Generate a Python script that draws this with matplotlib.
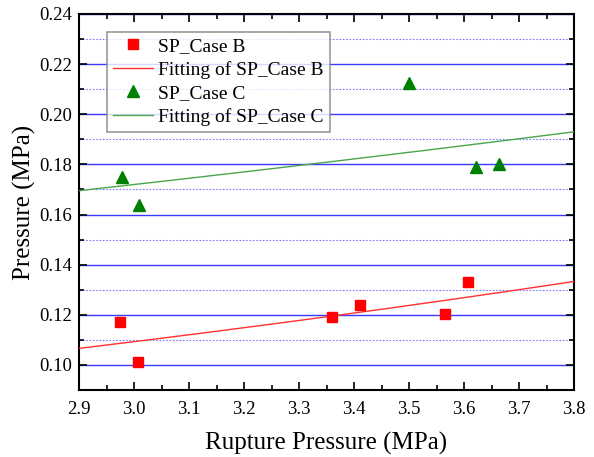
import matplotlib
matplotlib.use("Agg")
import matplotlib.pyplot as plt
import numpy as np
from matplotlib.ticker import MultipleLocator

plt.rcParams['font.family'] = ['Liberation Serif', 'DejaVu Serif']

# Data
case_b_x = [2.975, 3.008, 3.360, 3.410, 3.565, 3.607]
case_b_y = [0.117, 0.101, 0.119, 0.124, 0.1203, 0.133]
case_c_x = [2.978, 3.009, 3.500, 3.622, 3.663]
case_c_y = [0.175, 0.164, 0.2125, 0.179, 0.180]

# Exponential fit parameters y = a * exp(b * (x - 2.9))
fit_b = (0.1066, 0.2483)
fit_c = (0.1695, 0.1442)

fig = plt.figure(figsize=(5.94, 4.57), dpi=100)
ax = fig.add_axes([79/594, 1 - 390/457, (574-79)/594, (390-14)/457])

xs = np.linspace(2.9, 3.8, 200)
ax.plot(case_b_x, case_b_y, 's', color='red', markersize=6.5, linestyle='none',
        label='SP_Case B', zorder=4)
ax.plot(xs, fit_b[0] * np.exp(fit_b[1] * (xs - 2.9)), color='#ff3030', lw=1,
        label='Fitting of SP_Case B', zorder=3)
ax.plot(case_c_x, case_c_y, '^', color='#008000', markersize=8, linestyle='none',
        label='SP_Case C', zorder=4)
ax.plot(xs, fit_c[0] * np.exp(fit_c[1] * (xs - 2.9)), color='#4aa64a', lw=1,
        label='Fitting of SP_Case C', zorder=3)

ax.set_xlim(2.9, 3.8)
ax.set_ylim(0.09, 0.24)
ax.xaxis.set_major_locator(MultipleLocator(0.1))
ax.xaxis.set_minor_locator(MultipleLocator(0.05))
ax.yaxis.set_major_locator(MultipleLocator(0.02))
ax.yaxis.set_minor_locator(MultipleLocator(0.01))
ax.xaxis.set_major_formatter(matplotlib.ticker.FormatStrFormatter('%.1f'))
ax.yaxis.set_major_formatter(matplotlib.ticker.FormatStrFormatter('%.2f'))

ax.grid(which='major', axis='y', color='#3a3aff', lw=1, linestyle='-')
ax.grid(which='minor', axis='y', color='#7a7aff', lw=0.8, linestyle=(0, (1.5, 1.5)))
ax.set_axisbelow(True)

ax.tick_params(which='both', direction='in', top=True, right=True, labelsize=13.5,
               width=1.2)
ax.tick_params(which='major', length=6)
ax.tick_params(which='minor', length=3.5)
ax.tick_params(axis='x', pad=8)
ax.tick_params(axis='y', pad=5)
for s in ax.spines.values():
    s.set_linewidth(1.5)

ax.set_xlabel('Rupture Pressure (MPa)', fontsize=18, labelpad=10)
ax.set_ylabel('Pressure (MPa)', fontsize=18, labelpad=2)

leg = ax.legend(loc='upper left', bbox_to_anchor=(0.056, 0.953), fontsize=14,
                frameon=True, fancybox=False, edgecolor='#808080',
                handlelength=2.1, handletextpad=0.25, labelspacing=0.3,
                borderpad=0.3, borderaxespad=0)
leg.get_frame().set_linewidth(1.2)

fig.savefig('out.png', dpi=100)
